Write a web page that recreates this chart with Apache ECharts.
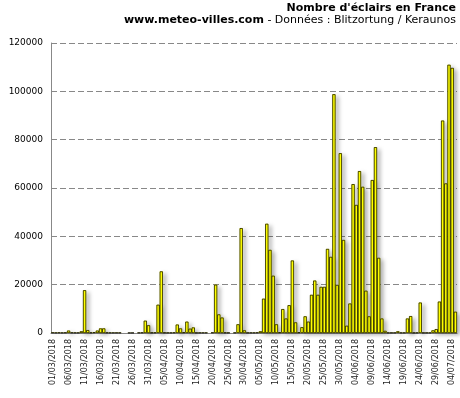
<!DOCTYPE html>
<html>
<head>
<meta charset="utf-8">
<script src="https://cdn.jsdelivr.net/npm/echarts@6/dist/echarts.min.js"></script>
<style>
  html, body { margin: 0; padding: 0; background: #fff; }
  #main { width: 460px; height: 398px; }
</style>
</head>
<body>
<div id="main"></div>
<script>
// nombre d'éclairs par jour (null = pas de donnée)
var mars = [200, 150, 200, 150, 200, 1000, 200, 150, 150, 700,
    17700, 1200, 200, 300, 1000, 1900, 1900, 200, 150, 150,
    150, 150, null, null, 100, 100, null, 150, 200, 5100, 3200];
var avril = [200, 200, 11700, 25500, 200, 150, 150, 200, 3500, 1900,
    300, 4700, 1800, 2300, 150, 150, 150, 150, null, 200,
    20000, 7700, 6400, 200, 150, null, 150, 3600, 43400, 1100];
var mai = [150, 150, 150, 200, 700, 14200, 45200, 34400, 23700, 3600,
    300, 9900, 6000, 11500, 30000, 4400, 300, 2400, 6900, 4700,
    15800, 21700, 15800, 19100, 19100, 34800, 31500, 98800, 19900, 74400, 38500];
var juin = [3000, 12200, 61600, 53000, 67000, 60500, 17500, 6900, 63300, 76900,
    31100, 6000, 900, 150, 150, 150, 700, 150, 150, 6000,
    7000, 150, 150, 12600, 150, 150, 150, 1100, 1600, 13000];
var juillet = [87900, 61900, 111000, 109700, 8800];

var yTicks = [0, 20000, 40000, 60000, 80000, 100000, 120000];

var values = mars.concat(avril, mai, juin, juillet);

function pad(n) { return n < 10 ? '0' + n : '' + n; }
var days = [];
var mois = [[3, mars.length], [4, avril.length], [5, mai.length], [6, juin.length], [7, juillet.length]];
mois.forEach(function (m) {
    for (var d = 1; d <= m[1]; d++) {
        days.push(pad(d) + '/' + pad(m[0]) + '/2018');
    }
});

var font = 'DejaVu Sans, Verdana, sans-serif';
var myChart = echarts.init(document.getElementById('main'));

var option = {
    animation: false,
    title: {
        left: 'right',
        top: 0,
        padding: [3, 4, 0, 0],
        itemGap: 1,
        text: "Nombre d'éclairs en France",
        subtext: '{b|www.meteo-villes.com} - Données : Blitzortung / Keraunos',
        textStyle: { fontFamily: font, fontSize: 11, fontWeight: 'bold', color: '#000' },
        subtextStyle: {
            fontFamily: font, fontSize: 11, color: '#000',
            rich: { b: { fontFamily: font, fontSize: 11, fontWeight: 'bold', color: '#000' } }
        }
    },
    grid: { left: 51, right: 3, top: 43, bottom: 65 },
    xAxis: {
        type: 'category',
        data: days,
        axisLine: { lineStyle: { color: '#888', width: 1 } },
        axisTick: { show: false },
        axisLabel: {
            interval: 4,
            rotate: 90,
            margin: 6,
            fontFamily: font,
            fontSize: 8,
            color: '#222'
        }
    },
    yAxis: {
        type: 'value',
        min: yTicks[0],
        max: yTicks[yTicks.length - 1],
        interval: yTicks[1] - yTicks[0],
        axisLine: { show: true, lineStyle: { color: '#888', width: 1 } },
        axisTick: { show: false },
        axisLabel: {
            margin: 8, fontFamily: font, fontSize: 9, color: '#000',
            formatter: function (v) { return String(v); }
        },
        splitLine: { lineStyle: { color: '#888', type: [6, 3], width: 1 } }
    },
    series: [{
        // ombre portée, dessinée derrière les barres
        type: 'bar',
        data: values,
        silent: true,
        barCategoryGap: '0%',
        barGap: '-100%',
        itemStyle: {
            color: '#ffff00',
            shadowColor: 'rgba(0,0,0,0.35)',
            shadowBlur: 4,
            shadowOffsetX: 3,
            shadowOffsetY: 2
        }
    }, {
        type: 'bar',
        data: values,
        z: 3,
        barCategoryGap: '0%',
        barGap: '-100%',
        itemStyle: {
            color: '#ffff00',
            borderColor: '#000',
            borderWidth: 0.7
        }
    }]
};

myChart.setOption(option);
</script>
</body>
</html>
